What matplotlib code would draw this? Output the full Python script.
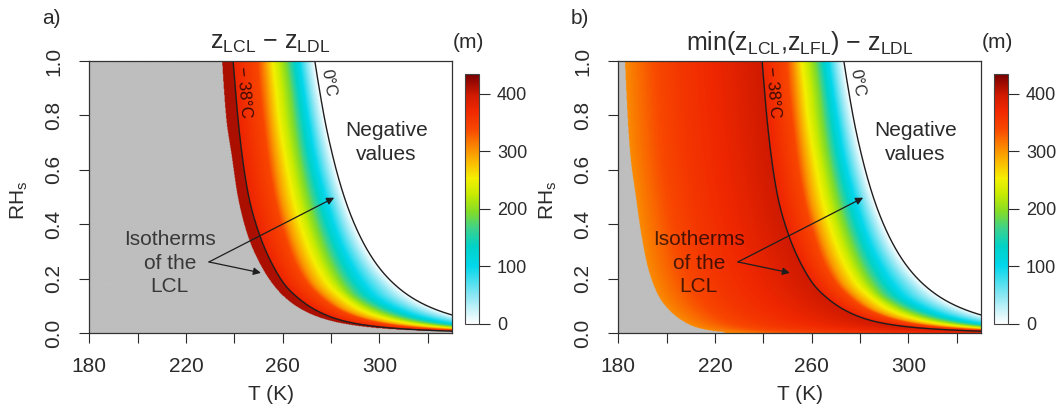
import numpy as np
import matplotlib
matplotlib.use("Agg")
import matplotlib.pyplot as plt
from matplotlib.colors import LinearSegmentedColormap, Normalize

plt.rcParams['font.family'] = ['Liberation Sans', 'DejaVu Sans']
plt.rcParams['mathtext.fontset'] = 'custom'
plt.rcParams['mathtext.rm'] = 'Liberation Sans'
plt.rcParams['mathtext.it'] = 'Liberation Sans'
plt.rcParams['mathtext.default'] = 'rm'

# ---------------- data ----------------
# RH rows at which curve positions (T in K) were read
rh_rows = [1.0, 0.9, 0.78, 0.655, 0.5, 0.36, 0.24, 0.177, 0.128, 0.079, 0.043, 0.024, 0.012, 0.003]
# LCL isotherm 0 C
t_zero = [273.3, 275.1, 277.5, 280.6, 285.5, 291.8, 300.0, 306.6, 314.0, 325.9, 342.4, 360.3, 384.8, 447.6]
# LCL isotherm -38 C
t_m38 = [239.5, 240.4, 241.6, 243.2, 246.0, 250.5, 256.5, 261.0, 266.6, 275.0, 286.3, 299.5, 318.0, 358.0]
# left edge of coloured area, panel a
t_gray_a = [235.0, 235.7, 236.8, 238.9, 241.5, 245.5, 251.5, 256.1, 261.2, 269.3, 280.4, 292.3, 308.1, 347.0]
# left edge of coloured area, panel b
t_gray_b = [182.8, 183.3, 184.0, 185.0, 187.3, 189.6, 192.3, 194.6, 197.2, 201.6, 206.8, 211.0, 216.0, 224.0]

# value levels (m) between the -38 C isotherm and the 0 C isotherm
right_values = [375, 340, 300, 250, 190, 100, 50, 0]
# fractional position of each level between the two isotherms, per RH row
f_340 = [0.30, 0.29, 0.29, 0.28, 0.27, 0.25, 0.22, 0.21, 0.20, 0.19, 0.19, 0.19, 0.19, 0.19]
f_300 = [0.39, 0.38, 0.37, 0.36, 0.34, 0.32, 0.29, 0.27, 0.26, 0.24, 0.24, 0.24, 0.24, 0.24]
f_250 = [0.49, 0.49, 0.48, 0.48, 0.47, 0.45, 0.42, 0.40, 0.39, 0.37, 0.37, 0.37, 0.37, 0.37]
f_190 = [0.65, 0.65, 0.64, 0.63, 0.62, 0.60, 0.56, 0.53, 0.50, 0.50, 0.50, 0.50, 0.50, 0.50]
f_100 = [0.81, 0.81, 0.81, 0.80, 0.80, 0.78, 0.75, 0.72, 0.69, 0.69, 0.69, 0.69, 0.69, 0.69]
f_50 = [0.90, 0.90, 0.90, 0.90, 0.90, 0.89, 0.88, 0.87, 0.85, 0.85, 0.85, 0.85, 0.85, 0.85]

# panel a: value in the strip left of the -38 C isotherm
strip_a_value = 412
# panel b: value profile between grey edge (0) and -38 C isotherm (1)
left_b_frac = [0.0, 0.2, 0.4, 0.6, 0.8, 1.0]
left_b_values = [305, 335, 355, 368, 382, 398]

cbar_ticks = [0, 100, 200, 300, 400]
vmax = 434

# annotation positions (T, RH)
arrow_origin = (229.5, 0.262)
arrow_tip_zero = (281.3, 0.498)
arrow_tip_m38 = (251.0, 0.222)

# ---------------- colour map ----------------
cm_nodes = [0, 50, 100, 135, 165, 195, 225, 253, 282, 312, 340, 370, 400, 434]
cm_cols = ['#ffffff', '#8ae6f3', '#00d7eb', '#00d2c8', '#3cd28c', '#82dc28', '#c8eb00',
           '#f5f000', '#fab900', '#fa7d00', '#f84600', '#f02800', '#cd1900', '#780000']
cmap = LinearSegmentedColormap.from_list('zc', list(zip(np.array(cm_nodes) / vmax, cm_cols)))
cmap.set_bad('#bebebe')
cmap.set_under('#ffffff')
norm = Normalize(0, vmax)

# ---------------- smooth interpolation between read rows ----------------
RH_FLOOR = rh_rows[-1]
XP = np.log(np.array(rh_rows)[::-1])


def pchip(x, y, xq):
    x = np.asarray(x, float)
    y = np.asarray(y, float)
    h = np.diff(x)
    d = np.diff(y) / h
    m = np.zeros_like(y)
    m[0], m[-1] = d[0], d[-1]
    for k in range(1, len(x) - 1):
        if d[k - 1] * d[k] > 0:
            w1 = 2 * h[k] + h[k - 1]
            w2 = h[k] + 2 * h[k - 1]
            m[k] = (w1 + w2) / (w1 / d[k - 1] + w2 / d[k])
    xq = np.clip(xq, x[0], x[-1])
    i = np.clip(np.searchsorted(x, xq) - 1, 0, len(x) - 2)
    t = (xq - x[i]) / h[i]
    h00 = 2 * t**3 - 3 * t**2 + 1
    h10 = t**3 - 2 * t**2 + t
    h01 = -2 * t**3 + 3 * t**2
    h11 = t**3 - t**2
    return h00 * y[i] + h10 * h[i] * m[i] + h01 * y[i + 1] + h11 * h[i] * m[i + 1]


def s_of(rh):
    return np.log(np.clip(rh, RH_FLOOR, 1.0))


def curve_T(arr, rh):
    u = 1.0 / (np.array(arr)[::-1] - 55.0)
    return 55.0 + 1.0 / pchip(XP, u, s_of(rh))


def curve_f(arr, rh):
    return pchip(XP, np.array(arr)[::-1], s_of(rh))


T = np.linspace(180, 330, 760)
RH = np.linspace(0, 1, 560)


def build_field(panel):
    Z = np.full((RH.size, T.size), np.nan)
    t0 = curve_T(t_zero, RH)
    tm = curve_T(t_m38, RH)
    tga = curve_T(t_gray_a, RH)
    tgb = curve_T(t_gray_b, RH)
    fr = [curve_f(f, RH) for f in (f_340, f_300, f_250, f_190, f_100, f_50)]
    for i in range(RH.size):
        pos = [tm[i]] + [tm[i] + f[i] * (t0[i] - tm[i]) for f in fr] + [t0[i]]
        row = np.interp(T, pos, right_values, right=-10.0)
        left = T < tm[i]
        if panel == 'a':
            row[left] = strip_a_value
            row[T < tga[i]] = np.nan
        else:
            g = (T - tgb[i]) / (tm[i] - tgb[i])
            row[left] = np.interp(g[left], left_b_frac, left_b_values)
            row[T < tgb[i]] = np.nan
        Z[i] = row
    return Z


# ---------------- figure ----------------
W, H = 1060, 413
fig = plt.figure(figsize=(W / 100, H / 100), dpi=100)
TXT = '#2b2b2b'
LINE = '#1e1e1e'


def fx(px):
    return px / W


def fy(py):
    return 1 - py / H


panels = [
    dict(key='a', x0=89.3, tag='a)', title=r'$z_{LCL}$ − $z_{LDL}$', cbx=465.0),
    dict(key='b', x0=618.3, tag='b)', title=r'min($z_{LCL}$,$z_{LFL}$) − $z_{LDL}$', cbx=994.0),
]
ax_w = 362.6
ax_top, ax_bot = 61.0, 333.3

rh_fine = np.geomspace(RH_FLOOR, 1.0, 600)

for p in panels:
    ax = fig.add_axes([fx(p['x0']), fy(ax_bot), fx(ax_w), (ax_bot - ax_top) / H])
    Z = build_field(p['key'])
    im = ax.imshow(Z, origin='lower', extent=[180, 330, 0, 1], aspect='auto',
                   cmap=cmap, norm=norm, interpolation='antialiased', interpolation_stage='rgba')
    ax.set_xlim(180, 330)
    ax.set_ylim(0, 1)

    ax.plot(curve_T(t_m38, rh_fine), rh_fine, color=LINE, lw=1.0)
    ax.plot(curve_T(t_zero, rh_fine), rh_fine, color=LINE, lw=1.0)

    ax.text(278.8, 0.918, '0°C', rotation=-80, ha='center', va='center', fontsize=12, color=TXT)
    ax.text(243.7, 0.885, '− 38°C', rotation=-85, ha='center', va='center', fontsize=12,
            color='#3a0a00')
    ax.text(302.9, 0.70, 'Negative\nvalues', ha='center', va='center', fontsize=15,
            color=TXT, linespacing=1.3)
    ax.text(213.3, 0.257, 'Isotherms\nof the\nLCL', ha='center', va='center', fontsize=15,
            color='black', alpha=0.7, linespacing=1.3)
    for tip in (arrow_tip_zero, arrow_tip_m38):
        ax.annotate('', xy=tip, xytext=arrow_origin,
                    arrowprops=dict(arrowstyle='-|>', color=LINE, lw=0.9,
                                    mutation_scale=11, shrinkA=0, shrinkB=0))

    ax.set_xticks(np.arange(180, 321, 20))
    ax.set_xticklabels(['180', '', '220', '', '260', '', '300', ''])
    ax.set_yticks([0, 0.2, 0.4, 0.6, 0.8, 1.0])
    ax.set_yticklabels(['0.0', '0.2', '0.4', '0.6', '0.8', '1.0'], rotation=90, va='center')
    ax.tick_params(axis='both', length=7, width=0.8, colors=TXT, labelsize=15)
    ax.tick_params(axis='x', pad=10)
    ax.tick_params(axis='y', pad=12)
    for s in ax.spines.values():
        s.set_color('#333333')
        s.set_linewidth(0.9)

    cx = (p['x0'] + ax_w / 2)
    fig.text(fx(cx), fy(43), p['title'], ha='center', va='center', fontsize=18, color=TXT)
    fig.text(fx(p['x0'] - 38), fy(18.5), p['tag'], ha='center', va='center', fontsize=15, color=TXT)
    fig.text(fx(p['cbx'] + 3), fy(43), '(m)', ha='center', va='center', fontsize=15, color=TXT)
    fig.text(fx(p['x0'] - 70), fy(200), r'RH$_s$', rotation=90, ha='center', va='center',
             fontsize=15, color=TXT)
    fig.text(fx(cx), fy(394), 'T (K)', ha='center', va='center', fontsize=15, color=TXT)

    cax = fig.add_axes([fx(p['cbx']), fy(324), fx(14), (324 - 74) / H])
    cb = fig.colorbar(im, cax=cax, ticks=cbar_ticks)
    cb.outline.set_edgecolor('#444444')
    cb.outline.set_linewidth(0.8)
    cax.tick_params(length=8, width=0.8, colors=TXT, labelsize=13, pad=5)

fig.savefig('out.png', dpi=100)
